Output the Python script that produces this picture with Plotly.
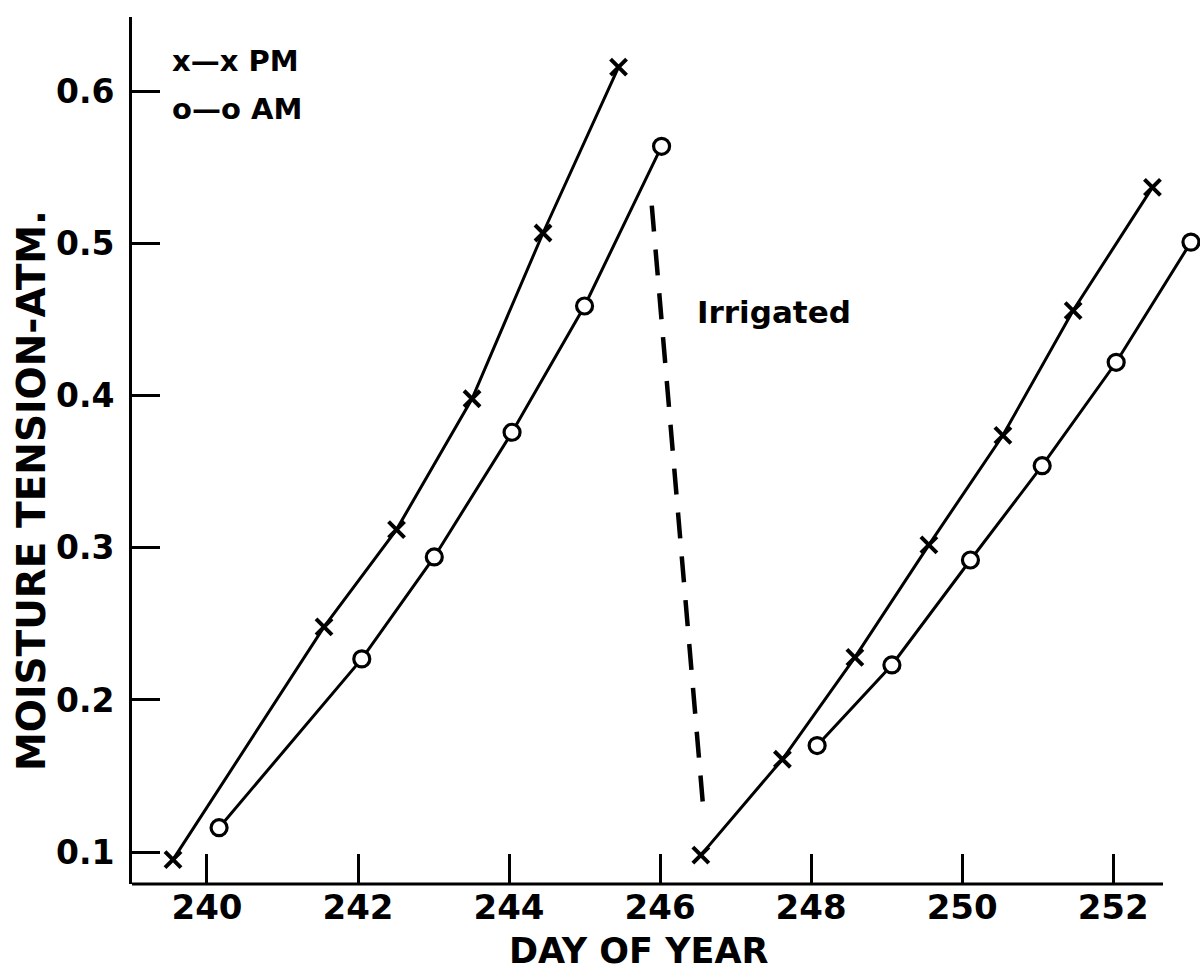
import plotly.graph_objects as go

# ---- data ----
pm_day_a = [239.55, 241.55, 242.51, 243.51, 244.45, 245.45]
pm_val_a = [0.095, 0.248, 0.312, 0.398, 0.507, 0.616]
am_day_a = [240.16, 242.05, 243.01, 244.04, 245.00, 246.02]
am_val_a = [0.116, 0.227, 0.294, 0.376, 0.459, 0.564]

pm_day_b = [246.54, 247.62, 248.58, 249.56, 250.54, 251.47, 252.52]
pm_val_b = [0.098, 0.161, 0.228, 0.302, 0.374, 0.456, 0.537]
am_day_b = [248.08, 249.07, 250.11, 251.06, 252.04, 253.03]
am_val_b = [0.170, 0.223, 0.292, 0.354, 0.422, 0.501]

irrig_day = [245.89, 246.57]
irrig_val = [0.525, 0.130]
irrig_label = "Irrigated"
irrig_label_pos = (247.51, 0.455)

x_ticks = [240, 242, 244, 246, 248, 250, 252]
y_ticks = [0.1, 0.2, 0.3, 0.4, 0.5, 0.6]
y_tick_text = ["0.1", "0.2", "0.3", "0.4", "0.5", "0.6"]

x_range = [239.007, 253.15]
x_axis_end = 252.66
y_range = [0.079, 0.649]

FONT = "DejaVu Sans"
BLACK = "#000000"

fig = go.Figure()

line_style = dict(color=BLACK, width=3)
x_marker = dict(symbol="x-thin", size=16, color=BLACK, line=dict(color=BLACK, width=4))
o_marker = dict(symbol="circle", size=16, color="white", line=dict(color=BLACK, width=3.2))

for d, v, name in [(pm_day_a, pm_val_a, "PM"), (pm_day_b, pm_val_b, "PM")]:
    fig.add_trace(go.Scatter(x=d, y=v, mode="lines+markers", name=name,
                             line=line_style, marker=x_marker, showlegend=False,
                             cliponaxis=False))
for d, v, name in [(am_day_a, am_val_a, "AM"), (am_day_b, am_val_b, "AM")]:
    fig.add_trace(go.Scatter(x=d, y=v, mode="lines+markers", name=name,
                             line=line_style, marker=o_marker, showlegend=False,
                             cliponaxis=False))

fig.add_trace(go.Scatter(x=irrig_day, y=irrig_val, mode="lines", name="Irrigated",
                         line=dict(color=BLACK, width=4.5, dash="26px,18px"),
                         showlegend=False))

fig.update_layout(
    width=1200, height=974,
    margin=dict(l=132, r=0, t=17, b=90),
    paper_bgcolor="white", plot_bgcolor="white",
    font=dict(family=FONT, color=BLACK),
    xaxis=dict(range=x_range, tickvals=x_ticks, ticks="inside", ticklen=30,
               tickwidth=3, tickcolor=BLACK, showgrid=False, zeroline=False,
               showline=False,
               tickfont=dict(size=34, family=FONT, color=BLACK, weight="bold"),
               ticklabelstandoff=0),
    yaxis=dict(range=y_range, tickvals=y_ticks, ticktext=y_tick_text,
               ticks="inside", ticklen=28, tickwidth=2.5, tickcolor=BLACK,
               showgrid=False, zeroline=False, showline=True, linewidth=3,
               linecolor=BLACK,
               tickfont=dict(size=33, family=FONT, color=BLACK, weight="bold"),
               ticklabelstandoff=8),
    shapes=[dict(type="line", xref="x", yref="paper", x0=x_range[0], x1=x_axis_end,
                 y0=0, y1=0, line=dict(color=BLACK, width=3))],
    annotations=[
        dict(text="x—x PM", xref="paper", yref="paper", x=0.0356, y=0.949,
             xanchor="left", yanchor="middle", showarrow=False,
             font=dict(size=29, family=FONT, color=BLACK, weight="bold")),
        dict(text="o—o AM", xref="paper", yref="paper", x=0.0356, y=0.894,
             xanchor="left", yanchor="middle", showarrow=False,
             font=dict(size=29, family=FONT, color=BLACK, weight="bold")),
        dict(text="DAY OF YEAR", xref="paper", yref="paper", x=0.475, y=-0.077,
             xanchor="center", yanchor="middle", showarrow=False,
             font=dict(size=35, family=FONT, color=BLACK, weight="bold")),
        dict(text="MOISTURE TENSION-ATM.", xref="paper", yref="paper", x=-0.0946,
             y=0.4544, xanchor="center", yanchor="middle", textangle=-90,
             showarrow=False,
             font=dict(size=39, family=FONT, color=BLACK, weight="bold")),
        dict(text=irrig_label, xref="x", yref="y", x=irrig_label_pos[0],
             y=irrig_label_pos[1], xanchor="center", yanchor="middle",
             showarrow=False,
             font=dict(size=31, family=FONT, color=BLACK, weight="bold")),
    ],
)

fig.write_html("out.html")
